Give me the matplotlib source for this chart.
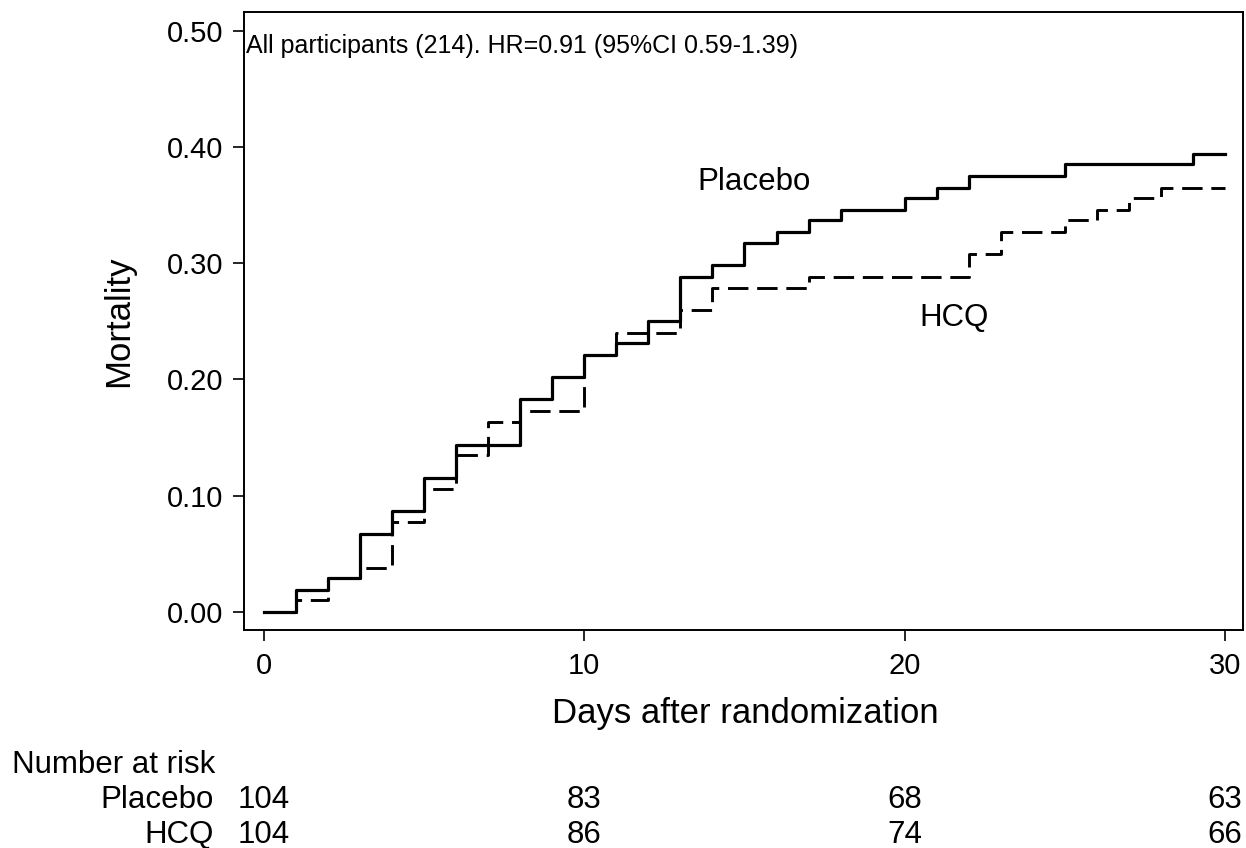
import matplotlib
matplotlib.use("Agg")
import matplotlib.pyplot as plt

plt.rcParams['font.family'] = ['Liberation Sans', 'DejaVu Sans']

# Data
placebo_days = [0, 1, 2, 3, 4, 5, 6, 8, 9, 10, 11, 12, 13, 14, 15, 16, 17, 18, 20, 21, 22, 25, 29, 30]
placebo_mort = [0, 0.019, 0.029, 0.067, 0.087, 0.115, 0.144, 0.183, 0.202, 0.221, 0.231, 0.250,
                0.288, 0.298, 0.317, 0.327, 0.337, 0.346, 0.356, 0.365, 0.375, 0.385, 0.394, 0.394]
hcq_days = [0, 1, 2, 3, 4, 5, 6, 7, 8, 10, 11, 13, 14, 17, 22, 23, 25, 26, 27, 28, 30]
hcq_mort = [0, 0.010, 0.029, 0.038, 0.077, 0.106, 0.135, 0.163, 0.173, 0.221, 0.240, 0.260,
            0.279, 0.288, 0.308, 0.327, 0.337, 0.346, 0.356, 0.365, 0.365]

risk_times = [0, 10, 20, 30]
risk_placebo = [104, 83, 68, 63]
risk_hcq = [104, 86, 74, 66]

y_ticks = [0.0, 0.1, 0.2, 0.3, 0.4, 0.5]
x_ticks = [0, 10, 20, 30]

W, H = 1246, 848
fig = plt.figure(figsize=(W / 100, H / 100), dpi=100)
ax = fig.add_axes([244 / W, 1 - 630 / H, (1243 - 244) / W, (630 - 12) / H])

ax.step(placebo_days, placebo_mort, where='post', color='black', lw=2.3)
ax.step(hcq_days, hcq_mort, where='post', color='black', lw=2.1, linestyle=(0, (7, 3)))

ax.set_xlim(-0.62, 30.56)
ax.set_ylim(-0.0155, 0.516)
ax.set_yticks(y_ticks)
ax.set_yticklabels([f"{v:.2f}" for v in y_ticks])
ax.set_xticks(x_ticks)
ax.tick_params(axis='y', labelsize=21, length=8, width=1.2, direction='out', pad=7)
ax.tick_params(axis='x', labelsize=21, length=8, width=1.2, direction='out', pad=8)
for s in ax.spines.values():
    s.set_linewidth(1.4)


def fx(px):
    return px / W


def fy(py):
    return 1 - py / H


fig.text(fx(745), fy(723), "Days after randomization", fontsize=25, ha='center', va='baseline')
fig.text(fx(119), fy(321), "Mortality", fontsize=25, ha='center', va='center', rotation=90)

fig.text(fx(246), fy(53), "All participants (214). HR=0.91 (95%CI 0.59-1.39)",
         fontsize=18, ha='left', va='baseline')
fig.text(fx(697), fy(190), "Placebo", fontsize=22.5, ha='left', va='baseline')
fig.text(fx(919), fy(326), "HCQ", fontsize=22.5, ha='left', va='baseline')

# Number at risk table
fig.text(fx(12), fy(773), "Number at risk", fontsize=22.5, ha='left', va='baseline')
fig.text(fx(214), fy(808), "Placebo", fontsize=22.5, ha='right', va='baseline')
fig.text(fx(214), fy(843), "HCQ", fontsize=22.5, ha='right', va='baseline')
for t, p, h in zip(risk_times, risk_placebo, risk_hcq):
    xd = ax.transData.transform((t, 0))[0]
    xf = fig.transFigure.inverted().transform((xd, 0))[0]
    fig.text(xf, fy(808), str(p), fontsize=22.5, ha='center', va='baseline')
    fig.text(xf, fy(843), str(h), fontsize=22.5, ha='center', va='baseline')

fig.savefig("out.png", dpi=100, facecolor='white')
